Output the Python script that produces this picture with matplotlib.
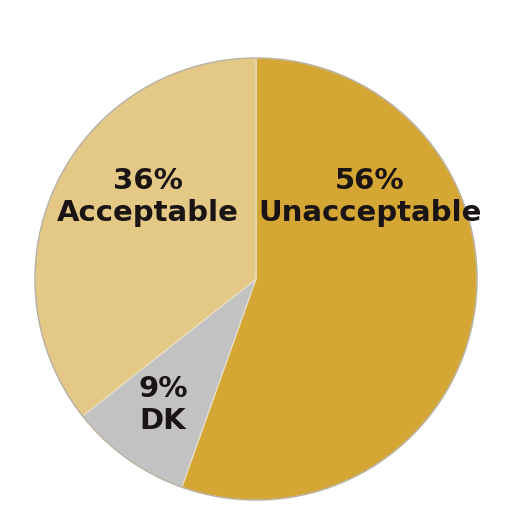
import matplotlib.pyplot as plt

labels = ["Unacceptable", "DK", "Acceptable"]
values = [56, 9, 36]
colors = ["#D4A633", "#C2C2C2", "#E3C886"]
label_pos = [(0.515, 0.37), (-0.42, -0.57), (-0.49, 0.37)]

fig = plt.figure(figsize=(5.12, 5.12), dpi=100)
ax = fig.add_axes([0, 0, 1, 1])
ax.pie(values, colors=colors, startangle=90, counterclock=False,
       wedgeprops={"edgecolor": "#E8E0C8", "linewidth": 0.8})
# outer rim
circle = plt.Circle((0, 0), 1, fill=False, edgecolor="#B8B0A0", linewidth=1.0)
ax.add_patch(circle)

for lab, val, (x, y) in zip(labels, values, label_pos):
    ax.text(x, y, f"{val}%\n{lab}", ha="center", va="center",
            fontsize=21, fontweight="bold", color="#1A1414",
            linespacing=1.2, family="DejaVu Sans")

r = 221.0
ax.set_xlim(-256 / r, 256 / r)
ax.set_ylim(-(512 - 279) / r, 279 / r)
ax.set_aspect("auto")
ax.axis("off")
fig.savefig("out.png", dpi=100, facecolor="white")
